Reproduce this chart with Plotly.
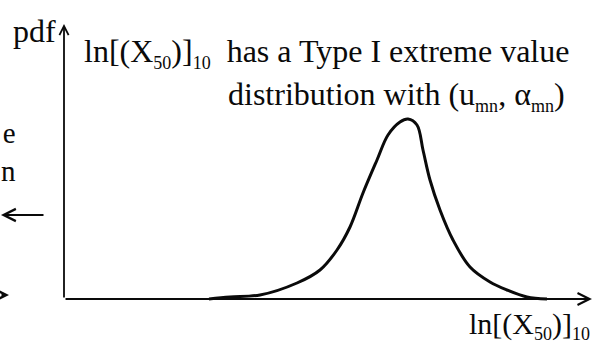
import plotly.graph_objects as go

# Sketch of the pdf of ln[(X50)]10 (arbitrary units, origin at the pdf axis)
x_vals = [2.9, 3.32, 3.92, 4.66, 5.12, 5.46, 5.72, 5.98, 6.26, 6.48, 6.72, 6.88,
          7.06, 7.18, 7.32, 7.52, 7.78, 8.12, 8.52, 8.86, 9.26, 9.66]
pdf_vals = [0.0, 0.008, 0.016, 0.064, 0.116, 0.196, 0.288, 0.424, 0.556, 0.656,
            0.708, 0.72, 0.696, 0.596, 0.476, 0.356, 0.236, 0.128, 0.068, 0.036,
            0.008, 0.0]

# Axis extents (data units)
x_axis_end = 10.56
pdf_axis_end = 1.10

W, H = 594, 343
FONT = "Liberation Serif, Times New Roman, serif"
INK = "#0a0a0a"
SUB = '<sub><span style="font-size:18px">{}</span></sub>'


def px(xp):
    return xp / W


def py(yp):
    return 1 - yp / H


fig = go.Figure()
fig.add_trace(go.Scatter(
    x=x_vals, y=pdf_vals, mode="lines",
    line=dict(color=INK, width=3, shape="spline", smoothing=1.0),
    hoverinfo="skip", showlegend=False,
))

ln_x50 = "ln[(X" + SUB.format("50") + ")]" + SUB.format("10")

annotations = [
    # pdf axis with arrowhead
    dict(x=0, y=pdf_axis_end, ax=0, ay=0, xref="x", yref="y", axref="x", ayref="y",
         showarrow=True, arrowhead=5, arrowsize=1.0, arrowwidth=1.8, arrowcolor=INK, text=""),
    # ln[(X50)]10 axis with arrowhead
    dict(x=x_axis_end, y=0, ax=0, ay=0, xref="x", yref="y", axref="x", ayref="y",
         showarrow=True, arrowhead=5, arrowsize=1.3, arrowwidth=1.8, arrowcolor=INK, text=""),
    # pieces of the neighbouring panel at the left edge
    dict(x=px(1), y=py(215), ax=44, ay=0, xref="paper", yref="paper",
         showarrow=True, arrowhead=5, arrowsize=1.2, arrowwidth=2, arrowcolor=INK, text=""),
    dict(x=px(9), y=py(295), ax=-40, ay=0, xref="paper", yref="paper",
         showarrow=True, arrowhead=5, arrowsize=1.2, arrowwidth=2, arrowcolor=INK, text=""),
    dict(x=0, y=py(152), xref="paper", yref="paper", text="e<br>n", showarrow=False,
         xanchor="left", yanchor="middle", align="right", borderpad=0,
         font=dict(family=FONT, size=29, color=INK)),
    # labels
    dict(x=px(34), y=py(31), xref="paper", yref="paper", text="pdf", showarrow=False,
         xanchor="center", yanchor="middle", font=dict(family=FONT, size=32, color=INK)),
    dict(x=px(82), y=py(53), xref="paper", yref="paper",
         text=ln_x50 + "\u00a0\u00a0has a Type I extreme value",
         showarrow=False, xanchor="left", yanchor="middle",
         font=dict(family=FONT, size=32, color=INK)),
    dict(x=px(567), y=py(96), xref="paper", yref="paper",
         text="distribution with (u" + SUB.format("mn") + ", \u03b1" + SUB.format("mn") + ")",
         showarrow=False, xanchor="right", yanchor="middle",
         font=dict(family=FONT, size=32, color=INK)),
    dict(x=px(592), y=py(325), xref="paper", yref="paper",
         text=ln_x50,
         showarrow=False, xanchor="right", yanchor="middle",
         font=dict(family=FONT, size=30, color=INK)),
]

fig.update_layout(
    width=W, height=H,
    margin=dict(l=0, r=0, t=0, b=0),
    paper_bgcolor="white", plot_bgcolor="white",
    xaxis=dict(range=[-1.28, 10.6], visible=False, fixedrange=True),
    yaxis=dict(range=[-0.176, 1.196], visible=False, fixedrange=True),
    annotations=annotations,
    showlegend=False,
)

fig.write_html("out.html", config={"displayModeBar": False})
